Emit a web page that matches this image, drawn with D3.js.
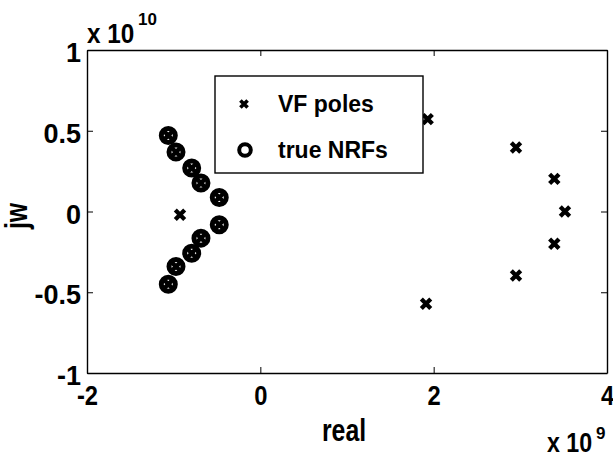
<!DOCTYPE html>
<meta charset="utf-8">
<script src="https://cdn.jsdelivr.net/npm/d3@7"></script>
<style>
  body { margin: 0; background: #fff; }
  text { font-family: "Liberation Sans", Arial, sans-serif; font-weight: bold; fill: #000; }
</style>
<div id="wrapper"></div>
<script>
  // data (real part in units of 1e9, imaginary part in units of 1e10)
  const nrfReal = [-1.062, -0.973, -0.792, -0.685, -0.474, -0.474, -0.685, -0.792, -0.973, -1.062];
  const nrfImag = [0.471, 0.368, 0.269, 0.176, 0.087, -0.082, -0.165, -0.258, -0.341, -0.450];
  const vfReal = [-1.062, -0.973, -0.792, -0.685, -0.474, -0.474, -0.685, -0.792, -0.973, -1.062,
    -0.927, 1.931, 2.950, 3.392, 3.515, 3.392, 2.950, 1.912];
  const vfImag = [0.471, 0.368, 0.269, 0.176, 0.087, -0.082, -0.165, -0.258, -0.341, -0.450,
    -0.02, 0.572, 0.396, 0.202, 0.0, -0.200, -0.396, -0.571];
  const xTicks = [-2, 0, 2, 4];
  const yTicks = [-1, -0.5, 0, 0.5, 1];
  const legendLabels = ["VF poles", "true NRFs"];

  const W = 613, H = 456;
  const plot = { left: 87, right: 607, top: 50, bottom: 373 };

  const svg = d3.select("#wrapper").append("svg")
    .attr("width", W).attr("height", H);

  const x = d3.scaleLinear().domain([-2, 4]).range([plot.left, plot.right]);
  const y = d3.scaleLinear().domain([-1, 1]).range([plot.bottom, plot.top]);

  // axes, ticks pointing inward
  const styleAxis = g => {
    g.select(".domain").attr("stroke", "#000").attr("stroke-width", 1.4);
    g.selectAll(".tick line").attr("stroke", "#000").attr("stroke-width", 1);
  };

  svg.append("g")
    .attr("transform", `translate(0,${plot.bottom})`)
    .call(d3.axisBottom(x).tickValues(xTicks).tickSizeInner(-6).tickSizeOuter(0).tickPadding(13)
      .tickFormat(d => d))
    .call(styleAxis)
    .call(g => g.selectAll("text").attr("font-size", 27).attr("font-family", null)
      .attr("transform", "scale(0.88,1)"));

  svg.append("g")
    .attr("transform", `translate(${plot.left},0)`)
    .call(d3.axisLeft(y).tickValues(yTicks).tickSizeInner(-6).tickSizeOuter(0).tickPadding(6)
      .tickFormat(d => d))
    .call(styleAxis)
    .call(g => g.selectAll("text").attr("font-size", 27).attr("font-family", null).attr("dy", "0.43em"));

  svg.append("g")
    .attr("transform", `translate(0,${plot.top})`)
    .call(d3.axisTop(x).tickValues(xTicks).tickSizeInner(-6).tickSizeOuter(0).tickFormat(""))
    .call(styleAxis);

  svg.append("g")
    .attr("transform", `translate(${plot.right},0)`)
    .call(d3.axisRight(y).tickValues(yTicks).tickSizeInner(-6).tickSizeOuter(0).tickFormat(""))
    .call(styleAxis);

  // exponent labels
  svg.append("text").attr("transform", `translate(${plot.left},43) scale(0.9,1)`)
    .attr("font-size", 27).text("x 10");
  svg.append("text").attr("x", 138).attr("y", 25).attr("font-size", 17).text("10");

  svg.append("text").attr("transform", "translate(547,452) scale(0.86,1)")
    .attr("font-size", 27).text("x 10");
  svg.append("text").attr("x", 596).attr("y", 439).attr("font-size", 17).text("9");

  // axis titles
  svg.append("text")
    .attr("transform", "translate(344,441) scale(0.8,1)")
    .attr("text-anchor", "middle").attr("font-size", 31).text("real");
  svg.append("text")
    .attr("transform", "translate(27,216) rotate(-90) scale(0.8,1)")
    .attr("text-anchor", "middle").attr("font-size", 31).text("jw");

  // markers
  const crossPath = s => `M${-s},${-s}L${s},${s}M${-s},${s}L${s},${-s}`;

  svg.append("g").selectAll("circle")
    .data(d3.range(nrfReal.length))
    .join("circle")
    .attr("cx", i => x(nrfReal[i]))
    .attr("cy", i => y(nrfImag[i]))
    .attr("r", 7)
    .attr("fill", "none")
    .attr("stroke", "#000")
    .attr("stroke-width", 5);

  svg.append("g").selectAll("path")
    .data(d3.range(vfReal.length))
    .join("path")
    .attr("transform", i => `translate(${x(vfReal[i])},${y(vfImag[i])})`)
    .attr("d", crossPath(4.7))
    .attr("stroke", "#000")
    .attr("stroke-width", 4.3)
    .attr("fill", "none");

  // legend
  const leg = svg.append("g");
  leg.append("rect")
    .attr("x", 215).attr("y", 76).attr("width", 208).attr("height", 97)
    .attr("fill", "#fff").attr("stroke", "#000").attr("stroke-width", 1.4);
  leg.append("path")
    .attr("transform", "translate(244,104)")
    .attr("d", crossPath(3.6))
    .attr("stroke", "#000").attr("stroke-width", 3.6);
  leg.append("circle")
    .attr("cx", 245).attr("cy", 150).attr("r", 5.8)
    .attr("fill", "none").attr("stroke", "#000").attr("stroke-width", 4);
  leg.selectAll("text.lab")
    .data(legendLabels)
    .join("text")
    .attr("class", "lab")
    .attr("x", 278)
    .attr("y", (d, i) => 112 + i * 46)
    .attr("font-size", 23)
    .text(d => d);
</script>
